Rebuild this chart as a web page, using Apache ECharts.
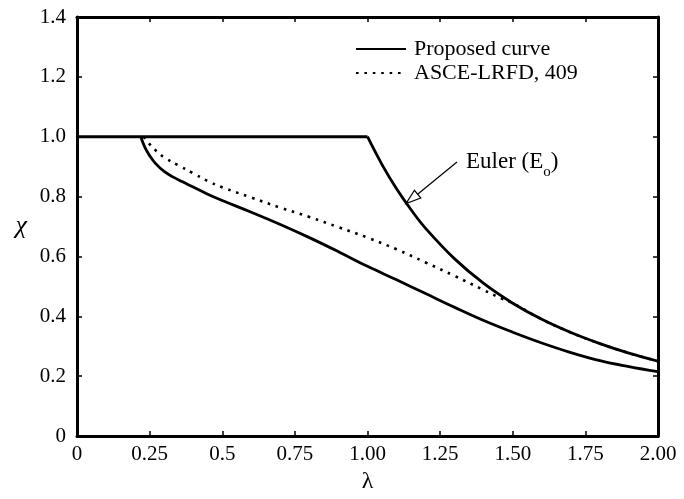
<!DOCTYPE html>
<html>
<head>
<meta charset="utf-8">
<script src="https://cdn.jsdelivr.net/npm/echarts@6/dist/echarts.min.js"></script>
<style>
  html, body { margin: 0; padding: 0; background: #fff; }
  #chart { width: 684px; height: 499px; }
</style>
</head>
<body>
<div id="chart"></div>
<script>
// tick labels
var xTickLabels = ['0', '0.25', '0.5', '0.75', '1.00', '1.25', '1.50', '1.75', '2.00'];

// flat cap at chi = 1
var capLambda = [0, 1.0];
var capChi = [1.0, 1.0];

// proposed curve
var proposedLambda = [0.22, 0.225, 0.235, 0.25, 0.27, 0.30, 0.33, 0.36, 0.40, 0.45, 0.50, 0.60, 0.70, 0.80, 0.90, 1.00,
                      1.10, 1.20, 1.30, 1.40, 1.50, 1.60, 1.70, 1.80, 1.90, 2.00];
var proposedChi = [1.0, 0.985, 0.962, 0.937, 0.911, 0.884, 0.866, 0.851, 0.832, 0.808, 0.787, 0.748, 0.707, 0.663, 0.616, 0.567,
                   0.522, 0.476, 0.430, 0.386, 0.347, 0.311, 0.279, 0.252, 0.232, 0.215];

// ASCE-LRFD, 409 (dotted)
var lrfdLambda = [0.23, 0.25, 0.275, 0.30, 0.35, 0.40, 0.45, 0.50, 0.60, 0.70, 0.80, 0.90, 1.00,
                  1.10, 1.20, 1.30, 1.40, 1.46, 1.50, 1.60, 1.70, 1.80, 1.90, 2.00];
var lrfdChi = [1.0, 0.975, 0.951, 0.931, 0.904, 0.878, 0.852, 0.831, 0.797, 0.763, 0.732, 0.698, 0.663,
               0.624, 0.580, 0.535, 0.488, 0.460, 0.444, 0.390, 0.346, 0.309, 0.277, 0.250];

// Euler (Eo)
var eulerLambda = [1.0, 1.05, 1.10, 1.15, 1.20, 1.30, 1.40, 1.50, 1.60, 1.70, 1.80, 1.90, 2.00];
var eulerChi = [1.0, 0.907, 0.826, 0.756, 0.694, 0.592, 0.510, 0.444, 0.390, 0.346, 0.309, 0.277, 0.250];

function pairs(xs, ys) {
    return xs.map(function (x, i) { return [x, ys[i]]; });
}

var font = 'Liberation Serif';
var frame = {show: true, onZero: false, lineStyle: {color: '#000', width: 3}};
var ticks = {show: true, inside: true, length: 5, lineStyle: {color: '#000', width: 1.5}};

var chart = echarts.init(document.getElementById('chart'));

var option = {
    animation: false,
    backgroundColor: '#fff',
    grid: {left: 77, right: 26, top: 17, bottom: 61, containLabel: false},
    legend: {
        orient: 'vertical',
        left: 355,
        top: 38,
        padding: 0,
        itemGap: 2,
        itemWidth: 50,
        itemHeight: 14,
        itemStyle: {opacity: 0},
        textStyle: {fontFamily: font, fontSize: 22, color: '#000', lineHeight: 22, padding: [0, 0, 0, 3]},
        data: ['Proposed curve', 'ASCE-LRFD, 409']
    },
    xAxis: [{
        type: 'value', min: 0, max: 2, interval: 0.25, position: 'bottom',
        axisLine: frame, axisTick: ticks, splitLine: {show: false},
        axisLabel: {
            fontFamily: font, fontSize: 21, color: '#000', margin: 8,
            formatter: function (v) { return xTickLabels[Math.round(v / 0.25)]; }
        },
        name: 'λ', nameLocation: 'middle', nameGap: 18,
        nameTextStyle: {fontFamily: font, fontSize: 24, color: '#000'}
    }, {
        type: 'value', min: 0, max: 2, interval: 0.25, position: 'top',
        axisLine: frame, axisTick: ticks, splitLine: {show: false}, axisLabel: {show: false}
    }],
    yAxis: [{
        type: 'value', min: 0, max: 1.4, interval: 0.2, position: 'left',
        axisLine: frame, axisTick: ticks, splitLine: {show: false},
        axisLabel: {
            fontFamily: font, fontSize: 21, color: '#000', margin: 11,
            formatter: function (v) { return v === 0 ? '0' : v.toFixed(1); }
        },
        name: 'χ', nameLocation: 'middle', nameRotate: 0, nameGap: 50,
        nameTextStyle: {fontFamily: font, fontSize: 26, fontStyle: 'italic', color: '#000'}
    }, {
        type: 'value', min: 0, max: 1.4, interval: 0.2, position: 'right',
        axisLine: frame, axisTick: ticks, splitLine: {show: false}, axisLabel: {show: false}
    }],
    series: [{
        name: 'cap', type: 'line', symbol: 'none', silent: true,
        lineStyle: {color: '#000', width: 2.8},
        data: pairs(capLambda, capChi)
    }, {
        name: 'Proposed curve', type: 'line', symbol: 'none', smooth: 0.4,
        lineStyle: {color: '#000', width: 2.8}, itemStyle: {color: '#000'},
        data: pairs(proposedLambda, proposedChi)
    }, {
        name: 'ASCE-LRFD, 409', type: 'line', symbol: 'none', smooth: 0.4,
        lineStyle: {color: '#000', width: 2.6, type: [2.6, 5.8]}, itemStyle: {color: '#000'},
        data: pairs(lrfdLambda, lrfdChi), z: 1
    }, {
        name: 'Euler', type: 'line', symbol: 'none', smooth: 0.4,
        lineStyle: {color: '#000', width: 2.8},
        data: pairs(eulerLambda, eulerChi), z: 3
    }]
};

chart.setOption(option);

// Euler annotation: arrow and label
var tail = chart.convertToPixel({gridIndex: 0}, [1.308, 0.9155]);
var tip = chart.convertToPixel({gridIndex: 0}, [1.1325, 0.7765]);
var dx = tip[0] - tail[0], dy = tip[1] - tail[1];
var len = Math.sqrt(dx * dx + dy * dy);
var ux = dx / len, uy = dy / len;
var headLen = 15, headHalf = 5;
var bx = tip[0] - ux * headLen, by = tip[1] - uy * headLen;
var labelPos = chart.convertToPixel({gridIndex: 0}, [1.339, 0.915]);

chart.setOption({
    graphic: [{
        type: 'line', z: 10,
        shape: {x1: tail[0], y1: tail[1], x2: bx, y2: by},
        style: {stroke: '#000', lineWidth: 1.2}
    }, {
        type: 'polygon', z: 10,
        shape: {points: [
            [tip[0], tip[1]],
            [bx - uy * headHalf, by + ux * headHalf],
            [bx + uy * headHalf, by - ux * headHalf]
        ]},
        style: {fill: '#fff', stroke: '#000', lineWidth: 1.2}
    }, {
        type: 'text', z: 10,
        x: labelPos[0], y: labelPos[1],
        style: {
            text: 'Euler (E{s|o})',
            fontFamily: font, fontSize: 23, fill: '#000',
            lineHeight: 34, verticalAlign: 'middle', align: 'left',
            rich: {s: {fontFamily: font, fontSize: 15, lineHeight: 15, verticalAlign: 'bottom'}}
        }
    }]
});

window.onresize = function () {
    chart.resize();
};
</script>
</body>
</html>
